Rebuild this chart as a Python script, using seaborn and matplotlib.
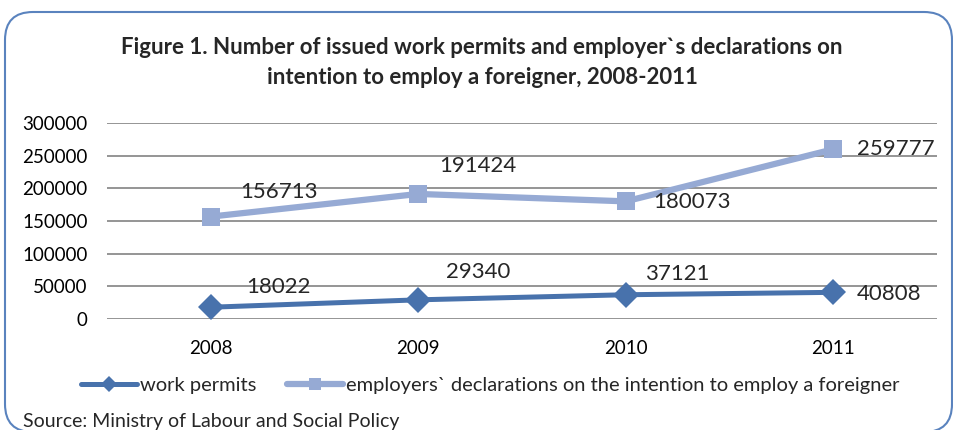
import matplotlib
matplotlib.use("Agg")
import matplotlib.pyplot as plt
import seaborn as sns
import pandas as pd
from matplotlib.patches import FancyBboxPatch
from matplotlib.lines import Line2D

years = ["2008", "2009", "2010", "2011"]
work_permits = [18022, 29340, 37121, 40808]
declarations = [156713, 191424, 180073, 259777]
series_names = ["work permits", "employers` declarations on the intention to employ a foreigner"]
yticks = [0, 50000, 100000, 150000, 200000, 250000, 300000]

df = pd.DataFrame({
    "year": years * 2,
    "value": work_permits + declarations,
    "series": [series_names[0]] * 4 + [series_names[1]] * 4,
})
df["pos"] = list(range(4)) * 2

sns.set_theme(style="white")
plt.rcParams["font.family"] = ["Lato", "DejaVu Sans"]

W, H = 954, 430
fig = plt.figure(figsize=(W / 100, H / 100), dpi=100)
ax = fig.add_axes([107 / W, (H - 319) / H, (937 - 107) / W, (319 - 123) / H])

c1 = "#4872AC"
c2 = "#96AAD4"
palette = {series_names[0]: c1, series_names[1]: c2}
sns.lineplot(data=df, x="pos", y="value", hue="series", palette=palette,
             style="series", markers={series_names[0]: "D", series_names[1]: "s"},
             dashes=False, ax=ax, legend=False, markeredgewidth=0)
for ln, lw, ms in zip(ax.lines, [3.6, 4.5], [13, 13]):
    ln.set_linewidth(lw)
    ln.set_markersize(ms)

ax.set_xlim(-0.5, 3.5)
ax.set_ylim(0, 300000)
ax.set_yticks(yticks)
ax.set_yticklabels([str(v) for v in yticks], fontsize=13.5)
ax.set_xticks(range(4))
ax.set_xticklabels(years, fontsize=13.5)
ax.tick_params(axis="both", length=0, colors="black")
ax.tick_params(axis="y", pad=14)
ax.tick_params(axis="x", pad=15)
ax.grid(axis="y", color="#8C8C8C", linewidth=1.3)
ax.set_axisbelow(True)
for s in ax.spines.values():
    s.set_visible(False)
ax.set_xlabel("")
ax.set_ylabel("")

# data labels: offsets in pixels
offs_wp = [(68, 20), (60, 28), (52, 21), (56, -2)]
offs_dc = [(68, 25), (60, 28), (66, -1), (63, 0)]
for i in range(4):
    ax.annotate(str(work_permits[i]), (i, work_permits[i]), xytext=offs_wp[i],
                textcoords="offset pixels", ha="center", va="center", fontsize=16)
    ax.annotate(str(declarations[i]), (i, declarations[i]), xytext=offs_dc[i],
                textcoords="offset pixels", ha="center", va="center", fontsize=16)

fig.text(482 / W, 1 - 48 / H, "Figure 1. Number of issued work permits and employer`s declarations on",
         ha="center", va="center", fontsize=16, fontweight="bold")
fig.text(482 / W, 1 - 77 / H, "intention to employ a foreigner, 2008-2011",
         ha="center", va="center", fontsize=16, fontweight="bold")

handles = [Line2D([], [], color=c1, lw=3.6, marker="D", markersize=8, markeredgewidth=0),
           Line2D([], [], color=c2, lw=4.5, marker="s", markersize=8, markeredgewidth=0)]
fig.legend(handles, series_names, loc="center", bbox_to_anchor=(490 / W, 1 - 385 / H),
           ncol=2, frameon=False, fontsize=14.5, handlelength=2.8, handletextpad=0.15,
           columnspacing=1.5)

fig.text(23 / W, 1 - 422 / H, "Source: Ministry of Labour and Social Policy",
         ha="left", va="center", fontsize=14)

frame = FancyBboxPatch((5 / 100, (H - 432) / 100), (947) / 100, (432 - 12) / 100,
                       boxstyle="round,pad=0,rounding_size=0.28",
                       transform=fig.dpi_scale_trans, fill=False,
                       edgecolor="#5A83BE", linewidth=1.5, zorder=-1)
fig.patches.append(frame)

fig.savefig("out.png", dpi=100)
